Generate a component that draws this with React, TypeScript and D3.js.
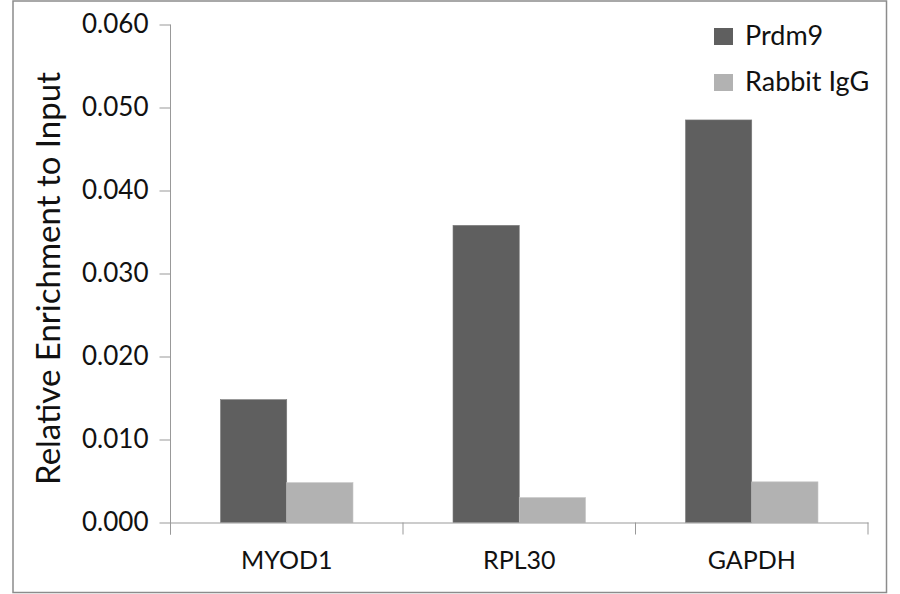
import React, {useRef, useEffect} from 'react';
import * as d3 from 'd3';

const categories = ['MYOD1', 'RPL30', 'GAPDH'];
const seriesNames = ['Prdm9', 'Rabbit IgG'];
const prdm9Values = [0.0148, 0.0358, 0.0485];
const iggValues = [0.0048, 0.0030, 0.0049];
const yTicks = [0, 0.01, 0.02, 0.03, 0.04, 0.05, 0.06];
const seriesColors = ['#5f5f5f', '#b2b2b2'];

const width = 900;
const height = 594;
const font = 'Lato, "Open Sans", sans-serif';

const App: React.FC = () => {
    const svgRef = useRef<SVGSVGElement | null>(null);

    useEffect(() => {
        const svg = d3.select(svgRef.current);
        svg.selectAll('*').remove();

        const margin = {left: 170.5, right: 32, top: 24.5, bottom: 71.5};
        const x0 = margin.left;
        const x1 = width - margin.right;
        const yBottom = height - margin.bottom;

        // outer frame
        svg.append('rect')
            .attr('x', 13).attr('y', 1)
            .attr('width', 873.5).attr('height', 591.5)
            .attr('fill', '#fff')
            .attr('stroke', '#8c8c8c')
            .attr('stroke-width', 1.5);

        const x = d3.scaleBand<string>()
            .domain(categories)
            .range([x0, x1])
            .padding(0);

        const xInner = d3.scaleBand<string>()
            .domain(seriesNames)
            .range([0, x.bandwidth()])
            .paddingInner(0)
            .paddingOuter(0.755);

        const y = d3.scaleLinear()
            .domain([0, 0.06])
            .range([yBottom, margin.top]);

        const rows = categories.map((c, i) => ({
            name: c,
            values: [prdm9Values[i], iggValues[i]]
        }));

        const groups = svg.selectAll('g.cat')
            .data(rows)
            .enter()
            .append('g')
            .attr('class', 'cat')
            .attr('transform', d => `translate(${x(d.name)}, 0)`);

        groups.selectAll('rect')
            .data(d => d.values.map((v, j) => ({key: seriesNames[j], value: v, j})))
            .enter()
            .append('rect')
            .attr('x', d => xInner(d.key) as number)
            .attr('y', d => y(d.value))
            .attr('width', xInner.bandwidth())
            .attr('height', d => yBottom - y(d.value))
            .attr('fill', d => seriesColors[d.j])
            .attr('stroke', d => d.j === 0 ? '#7a7a7a' : '#c4c4c4')
            .attr('stroke-width', 0.6);

        // y axis
        const yAxis = svg.append('g')
            .attr('transform', `translate(${x0}, 0)`)
            .call(d3.axisLeft(y).tickValues(yTicks).tickFormat(d3.format('.3f')).tickSize(11).tickSizeOuter(0));
        yAxis.select('.domain').attr('stroke', '#999').attr('d', `M0,${margin.top}V${yBottom + 12}`);
        yAxis.selectAll('.tick line').attr('stroke', '#999');
        yAxis.selectAll('.tick text')
            .attr('x', -22)
            .attr('fill', '#111')
            .style('font-family', font)
            .style('font-size', '26px');

        // x axis
        const xAxis = svg.append('g')
            .attr('transform', `translate(0, ${yBottom})`)
            .call(d3.axisBottom(x).tickSize(0).tickSizeOuter(0));
        xAxis.select('.domain').attr('stroke', '#999');
        xAxis.selectAll('.tick text')
            .attr('y', 38)
            .attr('dy', '0.32em')
            .attr('fill', '#111')
            .style('font-family', font)
            .style('font-size', '25px');

        const bounds = [x0, ...categories.map(c => (x(c) as number) + x.bandwidth())];
        svg.append('g')
            .selectAll('line')
            .data(bounds)
            .enter()
            .append('line')
            .attr('x1', d => d).attr('x2', d => d)
            .attr('y1', yBottom).attr('y2', yBottom + 12)
            .attr('stroke', '#999');

        // y label
        svg.append('text')
            .attr('transform', `translate(60, ${(margin.top + yBottom) / 2 + 5}) rotate(-90)`)
            .attr('text-anchor', 'middle')
            .attr('fill', '#111')
            .style('font-family', font)
            .style('font-size', '33px')
            .text('Relative Enrichment to Input');

        // legend
        const legend = svg.append('g')
            .selectAll('g')
            .data(seriesNames)
            .enter()
            .append('g')
            .attr('transform', (d, i) => `translate(714, ${28 + i * 46})`);
        legend.append('rect')
            .attr('width', 19)
            .attr('height', 17)
            .attr('fill', (d, i) => seriesColors[i]);
        legend.append('text')
            .attr('x', 31)
            .attr('y', 17)
            .attr('fill', '#111')
            .style('font-family', font)
            .style('font-size', '27px')
            .text(d => d);
    }, []);

    return (
        <svg ref={svgRef} width={width} height={height}
             style={{display: 'block', position: 'absolute', left: 0, top: 0}}/>
    );
};

export default App;
